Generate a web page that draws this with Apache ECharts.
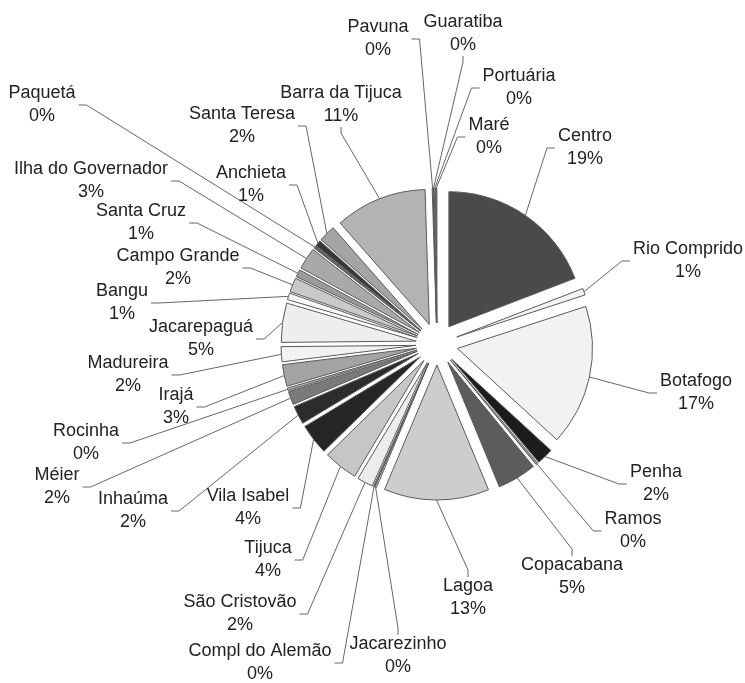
<!DOCTYPE html>
<html><head><meta charset="utf-8">
<script src="https://cdn.jsdelivr.net/npm/echarts@6/dist/echarts.min.js"></script>
<style>html,body{margin:0;padding:0;background:#fff}#c{width:745px;height:683px}</style>
</head><body><div id="c"></div>
<script>
// Slices, clockwise from 12 o'clock
const names = ['Centro','Rio Comprido','Botafogo','Penha','Ramos','Copacabana','Lagoa','Jacarezinho','Compl do Alemão','São Cristovão','Tijuca','Vila Isabel','Inhaúma','Méier','Rocinha','Irajá','Madureira','Jacarepaguá','Bangu','Campo Grande','Santa Cruz','Ilha do Governador','Paquetá','Anchieta','Santa Teresa','Barra da Tijuca','Pavuna','Guaratiba','Portuária','Maré'];
// Estimated shares (%)
const values = [19.2,0.8,16.9,2.0,0.25,4.7,12.6,0.2,0.15,1.9,4.1,3.7,2.2,1.6,0.3,2.6,1.8,4.7,0.8,1.7,0.9,2.6,0.3,0.7,2.0,11.0,0.1,0.1,0.15,0.15];
// Percent labels as printed
const pctLabels = ['19%','1%','17%','2%','0%','5%','13%','0%','0%','2%','4%','4%','2%','2%','0%','3%','2%','5%','1%','2%','1%','3%','0%','1%','2%','11%','0%','0%','0%','0%'];
const colors = ['#4a4a4a','#f4f4f4','#f2f2f2','#1c1c1c','#9a9a9a','#5c5c5c','#cdcdcd','#d8d8d8','#888888','#ececec','#c6c6c6','#262626','#2c2c2c','#7a7a7a','#b0b0b0','#a3a3a3','#f2f2f2','#eeeeee','#f6f6f6','#c9c9c9','#9c9c9c','#a9a9a9','#666666','#383838','#a4a4a4','#b3b3b3','#d0d0d0','#8a8a8a','#eeeeee','#7a7a7a'];
// Label layout: centre of each two-line label block, and the side the leader joins
const labelPosX = [585,688,696,656,633,572,468,398,260,240,268,248,133,57,86,176,128,201,122,178,141,91,42,251,242,341,378,463,519,489];
const labelPosY = [148,261,393,484,531,577,598,656,663,614,560,508,511,487,443,407,375,339,303,268,223,181,105,185,126,105,39,34,88,137];
const labelJoin = ['l','l','l','l','l','t','t','t','r','r','r','r','r','r','r','r','r','r','r','r','r','r','r','r','r','b','r','b','l','l'];

const FONT_SIZE = 18, LINE_H = 23, FONT_FAMILY = '"Liberation Sans", Arial, sans-serif';
const EXPLODE = 21;

const chart = echarts.init(document.getElementById('c'), null, {renderer:'canvas'});
chart.setOption({
  animation:false,
  series:[{
    type:'pie',
    center:[437,344],
    radius:135,
    startAngle:90,
    clockwise:true,
    selectedMode:'multiple',
    selectedOffset:EXPLODE,
    emphasis:{disabled:true},
    data: names.map((n,i)=>({name:n, value:values[i], selected:true, itemStyle:{color:colors[i]}})),
    itemStyle:{borderColor:'#5a5a5a', borderWidth:1},
    label:{show:false},
    labelLine:{show:false}
  }]
});

// Labels and leader lines, anchored on the library's slice layout
const measure = document.createElement('canvas').getContext('2d');
measure.font = FONT_SIZE + 'px ' + FONT_FAMILY;
const data = chart.getModel().getSeriesByIndex(0).getData();
const graphics = [];
names.forEach((n,i)=>{
  const L = data.getItemLayout(i);
  const mid = (L.startAngle + L.endAngle)/2;
  const d = L.r + EXPLODE;
  const start = [L.cx + Math.cos(mid)*d, L.cy + Math.sin(mid)*d];
  const text = n + '\n' + pctLabels[i];
  const w = Math.max(measure.measureText(n).width, measure.measureText(pctLabels[i]).width);
  const h = 2*LINE_H;
  const x = labelPosX[i], y = labelPosY[i];
  let elbow, end;
  switch(labelJoin[i]){
    case 'l': end=[x-w/2-3,y]; elbow=[x-w/2-11,y]; break;
    case 'r': end=[x+w/2+3,y]; elbow=[x+w/2+11,y]; break;
    case 't': end=[x,y-h/2+2]; elbow=[x,y-h/2-5]; break;
    default: end=[x,y+h/2-1]; elbow=[x,y+h/2+5];
  }
  graphics.push({type:'polyline', silent:true, shape:{points:[start, elbow, end]}, style:{stroke:'#666', lineWidth:1, fill:null}, z:5});
  graphics.push({type:'text', silent:true, x:x, y:y, style:{text:text, font:FONT_SIZE+'px '+FONT_FAMILY, lineHeight:LINE_H, fill:'#222', align:'center', verticalAlign:'middle'}, z:6});
});
chart.setOption({graphic:graphics});
</script></body></html>
